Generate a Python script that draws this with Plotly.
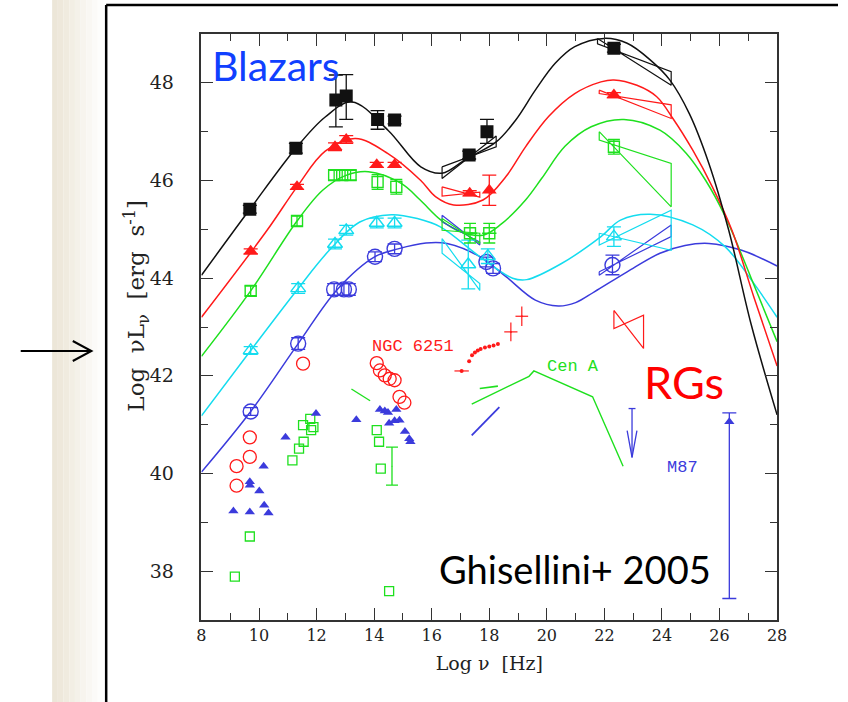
import plotly.graph_objects as go

# ---------------- Blazar sequence: model SEDs (log nu, log nuLnu) ----------------
black_curve_x = [8, 9.68, 11.28, 12.3, 13.23, 14.48, 15.62, 16.36, 17.22, 18.24, 18.92, 19.6,
                 20.29, 20.97, 21.99, 22.79, 23.59, 24.27, 24.95, 25.63, 26.32, 27.1, 28]
black_curve_y = [44.06, 45.41, 46.66, 47.3, 47.61, 47.03, 46.28, 46.15, 46.45, 46.79, 47.24, 47.85,
                 48.4, 48.74, 48.91, 48.81, 48.47, 48.06, 47.37, 46.35, 44.98, 43.05, 41.2]

red_curve_x = [8, 10.28, 11.32, 12.3, 13.35, 14.48, 15.62, 16.13, 16.76, 17.78, 18.58, 19.26,
               20.06, 20.97, 21.88, 22.33, 23.13, 23.81, 24.38, 25.07, 25.75, 26.43, 27.2, 28]
red_curve_y = [43.2, 44.98, 45.87, 46.6, 46.86, 46.55, 46.0, 45.67, 45.5, 45.6, 46.08, 46.69,
               47.31, 47.78, 48.02, 48.06, 47.95, 47.72, 47.27, 46.62, 45.87, 44.98, 43.6, 42.2]

green_curve_x = [8, 9.71, 11.32, 12.21, 13.0, 13.8, 14.94, 15.6, 16.3, 17.0, 17.78, 18.4, 19.26,
                 19.83, 20.63, 21.54, 22.68, 23.93, 24.84, 25.52, 26.2, 27.1, 28]
green_curve_y = [42.4, 43.74, 45.17, 45.8, 46.1, 46.18, 45.94, 45.6, 45.2, 44.95, 44.88, 45.1, 45.6,
                 46.05, 46.7, 47.1, 47.25, 47.03, 46.56, 46.0, 45.26, 44.0, 42.7]

cyan_curve_x = [8, 9.71, 11.36, 12.44, 13.5, 14.6, 15.5, 16.3, 17.67, 18.81, 19.3, 20.51, 21.88,
                22.56, 23.59, 25.07, 26.2, 27.11, 28]
cyan_curve_y = [41.18, 42.52, 43.79, 44.57, 45.15, 45.3, 45.22, 45.05, 44.44, 44.0, 43.97, 44.3, 44.85,
                45.19, 45.31, 45.09, 44.64, 43.96, 43.2]

blue_curve_x = [8, 9.71, 11.36, 12.72, 14.03, 14.83, 15.8, 16.53, 17.67, 18.58, 19.6, 20.4, 21.0,
                21.65, 22.79, 23.93, 24.8, 25.63, 26.77, 28]
blue_curve_y = [40.03, 41.27, 42.66, 43.77, 44.44, 44.6, 44.72, 44.71, 44.44, 44.03, 43.55, 43.43, 43.5,
                43.72, 44.13, 44.51, 44.67, 44.71, 44.57, 44.25]

# ---------------- Blazar sequence: averaged data points ----------------
black_pts_x = [9.68, 11.28, 12.67, 13.03, 14.12, 14.71, 17.3, 17.92, 22.33]
black_pts_y = [45.41, 46.66, 47.65, 47.73, 47.25, 47.24, 46.52, 47.0, 48.71]
black_err_up = [0.08, 0.1, 0.51, 0.44, 0.18, 0.08, 0.08, 0.25, 0.08]
black_err_dn = [0.08, 0.1, 0.55, 0.48, 0.2, 0.08, 0.08, 0.24, 0.08]

red_pts_x = [9.71, 11.32, 12.64, 13.03, 14.09, 14.71, 17.32, 18.0, 22.33]
red_pts_y = [44.55, 45.87, 46.69, 46.84, 46.32, 46.32, 45.74, 45.8, 47.75]
red_err = [0.05, 0.05, 0.08, 0.08, 0.05, 0.05, 0.05, 0.31, 0.05]

green_pts_x = [9.71, 11.32, 12.61, 12.89, 13.18, 14.12, 14.77, 17.33, 18.0, 22.33]
green_pts_y = [43.74, 45.17, 46.11, 46.11, 46.11, 45.97, 45.87, 44.92, 44.92, 46.69]
green_err = [0.1, 0.1, 0.1, 0.1, 0.1, 0.15, 0.15, 0.2, 0.2, 0.15]
green_err_x = [0, 0, 0, 0, 0, 0, 0, 0.25, 0.25, 0]

cyan_pts_x = [9.71, 11.36, 12.64, 13.03, 14.09, 14.71, 17.27, 17.95, 22.33]
cyan_pts_y = [42.52, 43.79, 44.7, 44.98, 45.13, 45.13, 44.28, 44.45, 44.85]
cyan_err = [0.08, 0.1, 0.1, 0.1, 0.1, 0.1, 0.5, 0.15, 0.2]

blue_pts_x = [9.71, 11.36, 12.61, 12.95, 13.12, 14.03, 14.71, 17.9, 18.13, 22.28]
blue_pts_y = [41.27, 42.66, 43.77, 43.77, 43.77, 44.44, 44.6, 44.33, 44.2, 44.27]
blue_err = [0.08, 0.12, 0.12, 0.12, 0.12, 0.1, 0.1, 0.1, 0.1, 0.2]

# Spectral bow-ties: (x_left, x_right, y_left_top, y_left_bottom, y_right_top, y_right_bottom)
black_bowties = [(16.36, 18.24, 46.28, 46.04, 46.91, 46.69), (21.76, 24.32, 48.91, 48.8, 48.23, 47.95)]
red_bowties = [(16.36, 17.67, 45.87, 45.68, 45.76, 45.66), (21.82, 24.32, 47.85, 47.78, 47.55, 47.27)]
green_bowties = [(16.36, 17.67, 45.22, 44.98, 44.92, 44.71), (21.82, 24.32, 47.0, 46.83, 46.35, 45.46)]
cyan_bowties = [(16.36, 17.67, 44.81, 44.51, 43.89, 43.75), (21.82, 24.32, 44.92, 44.68, 45.39, 44.57)]
blue_bowties = [(16.36, 17.67, 45.29, 45.15, 44.74, 44.68), (21.82, 24.32, 44.13, 44.06, 45.09, 44.85)]

# ---------------- Radio galaxies ----------------
# NGC 6251 (red)
ngc_circ_x = [9.68, 9.68, 9.22, 9.22, 11.53, 14.09, 14.2, 14.37, 14.54, 14.71, 14.88, 15.05]
ngc_circ_y = [40.74, 40.34, 40.15, 39.75, 42.25, 42.26, 42.11, 42.01, 41.94, 41.91, 41.57, 41.45]
ngc_xray_x = [17.3, 17.4, 17.5, 17.6, 17.7, 17.85, 18.0, 18.15, 18.3]
ngc_xray_y = [42.3, 42.42, 42.48, 42.52, 42.55, 42.58, 42.6, 42.62, 42.65]
ngc_soft_x = [17.04]
ngc_soft_y = [42.1]
ngc_cross_x = [18.75, 19.13]
ngc_cross_y = [42.9, 43.22]
ngc_cross_ex = [0.23, 0.22]
ngc_cross_ey = [0.19, 0.2]
ngc_bowtie = (22.33, 23.36, 43.34, 42.97, 43.24, 42.56)

# Cen A (green)
cena_sq_x = [11.53, 11.78, 11.89, 11.81, 11.55, 11.39, 11.16, 9.68, 9.16, 14.09, 14.17, 14.23, 14.52]
cena_sq_y = [40.99, 41.12, 40.95, 40.89, 40.65, 40.51, 40.27, 38.71, 37.89, 40.89, 40.65, 40.1, 37.59]
cena_bar_x = [14.62]
cena_bar_y = [40.15]
cena_bar_err = [0.39]
cena_ir_x = [13.21, 13.86]
cena_ir_y = [41.73, 41.49]
cena_hard_x = [17.39, 19.38, 19.55, 21.59, 22.65]
cena_hard_y = [41.42, 41.99, 42.1, 41.57, 40.15]
cena_soft_x = [17.67, 18.3]
cena_soft_y = [41.74, 41.79]

# M87 (blue)
m87_tri_x = [11.98, 10.92, 10.16, 9.68, 9.68, 10.01, 9.11, 9.68, 10.18, 10.33,
             13.38, 14.2, 14.37, 14.48, 14.77, 14.52, 14.71, 14.88, 15.07, 15.22, 15.26]
m87_tri_y = [41.23, 40.74, 40.15, 39.83, 39.76, 39.64, 39.23, 39.21, 39.35, 39.19,
             41.1, 41.31, 41.28, 41.25, 41.31, 41.03, 41.08, 41.09, 40.86, 40.71, 40.65]
m87_xray_x = [17.39, 18.35]
m87_xray_y = [40.78, 41.36]
m87_ul_x = 22.96
m87_ul_y = 41.33
m87_tev_x = [26.34]
m87_tev_y = [41.06]
m87_tev_up = [0.18]
m87_tev_dn = [3.62]

BLACK = "#111111"
RED = "#ff1a1a"
GREEN = "#1ee01e"
CYAN = "#14dcef"
BLUE = "#3b3bdc"

fig = go.Figure()


def add_line(x, y, color, width=1.4, shape="linear"):
    fig.add_trace(go.Scatter(x=x, y=y, mode="lines", line=dict(color=color, width=width, shape=shape),
                             hoverinfo="skip"))


def add_bowties(ties, color):
    for xl, xr, ylt, ylb, yrt, yrb in ties:
        add_line([xl, xr, xr, xl, xl], [ylt, yrb, yrt, ylb, ylt], color, width=1.2)


# model curves
for cx, cy, col in [(blue_curve_x, blue_curve_y, BLUE), (cyan_curve_x, cyan_curve_y, CYAN),
                    (green_curve_x, green_curve_y, GREEN), (red_curve_x, red_curve_y, RED),
                    (black_curve_x, black_curve_y, BLACK)]:
    fig.add_trace(go.Scatter(x=cx, y=cy, mode="lines",
                             line=dict(color=col, width=1.5, shape="spline", smoothing=1.0),
                             hoverinfo="skip"))

for ties, col in [(blue_bowties, BLUE), (cyan_bowties, CYAN), (green_bowties, GREEN),
                  (red_bowties, RED), (black_bowties, BLACK)]:
    add_bowties(ties, col)


def err(arr, col, arrminus=None, width=5):
    d = dict(type="data", array=arr, color=col, thickness=1.3, width=width, visible=True)
    if arrminus is not None:
        d["symmetric"] = False
        d["arrayminus"] = arrminus
    return d


# blazar data points
fig.add_trace(go.Scatter(x=blue_pts_x, y=blue_pts_y, mode="markers",
                         marker=dict(symbol="circle-open", size=15, color=BLUE, line=dict(width=1.4)),
                         error_y=err(blue_err, BLUE, width=7)))
fig.add_trace(go.Scatter(x=cyan_pts_x, y=cyan_pts_y, mode="markers",
                         marker=dict(symbol="triangle-up-open", size=13, color=CYAN, line=dict(width=1.4)),
                         error_y=err(cyan_err, CYAN, width=7)))
fig.add_trace(go.Scatter(x=green_pts_x, y=green_pts_y, mode="markers",
                         marker=dict(symbol="square-open", size=11, color=GREEN, line=dict(width=1.4)),
                         error_y=err(green_err, GREEN, width=6),
                         error_x=dict(type="data", array=green_err_x, color=GREEN, thickness=1.3, width=0)))
fig.add_trace(go.Scatter(x=red_pts_x, y=red_pts_y, mode="markers",
                         marker=dict(symbol="triangle-up", size=13, color=RED),
                         error_y=err(red_err, RED, width=7)))
fig.add_trace(go.Scatter(x=black_pts_x, y=black_pts_y, mode="markers",
                         marker=dict(symbol="square", size=13, color=BLACK),
                         error_y=err(black_err_up, BLACK, black_err_dn, width=7)))

# NGC 6251
fig.add_trace(go.Scatter(x=ngc_circ_x, y=ngc_circ_y, mode="markers",
                         marker=dict(symbol="circle-open", size=13, color=RED, line=dict(width=1.3))))
fig.add_trace(go.Scatter(x=ngc_xray_x, y=ngc_xray_y, mode="markers",
                         marker=dict(symbol="circle", size=4, color=RED)))
fig.add_trace(go.Scatter(x=ngc_soft_x, y=ngc_soft_y, mode="markers",
                         marker=dict(symbol="circle", size=4, color=RED),
                         error_x=dict(type="data", array=[0.25], color=RED, thickness=1.2, width=0)))
fig.add_trace(go.Scatter(x=ngc_cross_x, y=ngc_cross_y, mode="markers",
                         marker=dict(symbol="circle", size=2, color=RED),
                         error_x=dict(type="data", array=ngc_cross_ex, color=RED, thickness=1.2, width=0),
                         error_y=dict(type="data", array=ngc_cross_ey, color=RED, thickness=1.2, width=0)))
add_bowties([ngc_bowtie], RED)

# Cen A
fig.add_trace(go.Scatter(x=cena_sq_x, y=cena_sq_y, mode="markers",
                         marker=dict(symbol="square-open", size=9, color=GREEN, line=dict(width=1.3))))
fig.add_trace(go.Scatter(x=cena_bar_x, y=cena_bar_y, mode="markers",
                         marker=dict(size=1, color=GREEN),
                         error_y=dict(type="data", array=cena_bar_err, color=GREEN, thickness=1.3, width=6)))
add_line(cena_ir_x, cena_ir_y, GREEN, 1.4)
add_line(cena_hard_x, cena_hard_y, GREEN, 1.4)
add_line(cena_soft_x, cena_soft_y, GREEN, 1.6)

# M87
fig.add_trace(go.Scatter(x=m87_tri_x, y=m87_tri_y, mode="markers",
                         marker=dict(symbol="triangle-up", size=9, color=BLUE)))
add_line(m87_xray_x, m87_xray_y, BLUE, 1.8)
# upper limit: cap, shaft and open arrow head
add_line([m87_ul_x - 0.12, m87_ul_x + 0.12], [m87_ul_y, m87_ul_y], BLUE, 1.3)
add_line([m87_ul_x, m87_ul_x], [m87_ul_y, m87_ul_y - 1.0], BLUE, 1.3)
add_line([m87_ul_x - 0.17, m87_ul_x, m87_ul_x + 0.17], [m87_ul_y - 0.45, m87_ul_y - 1.0, m87_ul_y - 0.45],
         BLUE, 1.3)
fig.add_trace(go.Scatter(x=m87_tev_x, y=m87_tev_y, mode="markers",
                         marker=dict(symbol="triangle-up", size=9, color=BLUE),
                         error_y=err(m87_tev_up, BLUE, m87_tev_dn, width=7)))

W, H = 848, 702
serif = "DejaVu Serif"
mono = "Liberation Mono"
sans = "Lato"

# text labels
annos = [
    dict(x=15.36, y=42.61, text="NGC 6251", font=dict(family=mono, size=17, color=RED)),
    dict(x=20.9, y=42.2, text="Cen A", font=dict(family=mono, size=17, color=GREEN)),
    dict(x=24.7, y=40.13, text="M87", font=dict(family=mono, size=17, color=BLUE)),
    dict(x=10.6, y=48.36, text="Blazars", font=dict(family=sans, size=41, color="#1040ff")),
    dict(x=24.78, y=41.88, text="RGs", font=dict(family=sans, size=45, color="#ff0000")),
    dict(x=20.98, y=38.04, text="Ghisellini+ 2005", font=dict(family=sans, size=38, color="#000000")),
]
for a in annos:
    fig.add_annotation(xref="x", yref="y", showarrow=False, **a)

# vertical axis title
fig.add_annotation(xref="paper", yref="paper", x=133 / W, y=1 - 306 / H, xanchor="center", yanchor="middle",
                   showarrow=False, textangle=-90,
                   text="Log  νL<sub>ν</sub>  [erg  s<sup>-1</sup>]",
                   font=dict(family=serif, size=23, color="#222"))

# slide decoration: shaded strip, frame and pointer arrow
strip_cols = ["#ece6d8", "#eee8db", "#f0ebdf", "#f2eee4", "#f4f1e9", "#f7f4ee", "#f9f7f3", "#fbfaf8", "#fdfdfc"]
x0 = 48
for i, c in enumerate(strip_cols):
    fig.add_shape(type="rect", xref="paper", yref="paper", x0=(x0 + i * 5.8) / W, x1=(x0 + (i + 1) * 5.8) / W,
                  y0=0, y1=1, fillcolor=c, line=dict(width=0), layer="below")
fig.add_shape(type="line", xref="paper", yref="paper", x0=103 / W, x1=103 / W, y0=0, y1=1 - 5 / H,
              line=dict(color="black", width=2.5))
fig.add_shape(type="line", xref="paper", yref="paper", x0=103 / W, x1=1, y0=1 - 5 / H, y1=1 - 5 / H,
              line=dict(color="black", width=2.5))
ay = 1 - 351 / H
fig.add_shape(type="line", xref="paper", yref="paper", x0=16 / W, x1=88 / W, y0=ay, y1=ay,
              line=dict(color="black", width=2))
fig.add_shape(type="path", xref="paper", yref="paper",
              path=f"M {69 / W} {ay + 10 / H} L {88 / W} {ay} L {69 / W} {ay - 10 / H}",
              line=dict(color="black", width=2))

fig.update_layout(
    width=W, height=H, margin=dict(l=0, r=0, t=0, b=0),
    paper_bgcolor="white", plot_bgcolor="white", showlegend=False,
    xaxis=dict(domain=[200 / W, 786 / W], range=[8, 28], tickvals=list(range(8, 29, 2)),
               ticks="inside", ticklen=12, tickwidth=1.3, tickcolor="#333",
               minor=dict(dtick=1, tick0=8, ticks="inside", ticklen=7, tickwidth=1.3, tickcolor="#333"),
               showline=True, linecolor="#333", linewidth=1.6, mirror="ticks",
               showgrid=False, zeroline=False,
               tickfont=dict(family=serif, size=16, color="#222"),
               title=dict(text="Log ν  [Hz]", font=dict(family=serif, size=19, color="#222"), standoff=13)),
    yaxis=dict(domain=[(H - 620) / H, (H - 34) / H], range=[37, 49], tickvals=list(range(38, 49, 2)),
               ticks="inside", ticklen=12, tickwidth=1.3, tickcolor="#333",
               minor=dict(dtick=1, tick0=37, ticks="inside", ticklen=7, tickwidth=1.3, tickcolor="#333"),
               showline=True, linecolor="#333", linewidth=1.6, mirror="ticks",
               showgrid=False, zeroline=False, ticklabelstandoff=22,
               tickfont=dict(family=serif, size=19, color="#222")),
)

fig.write_html("out.html")
